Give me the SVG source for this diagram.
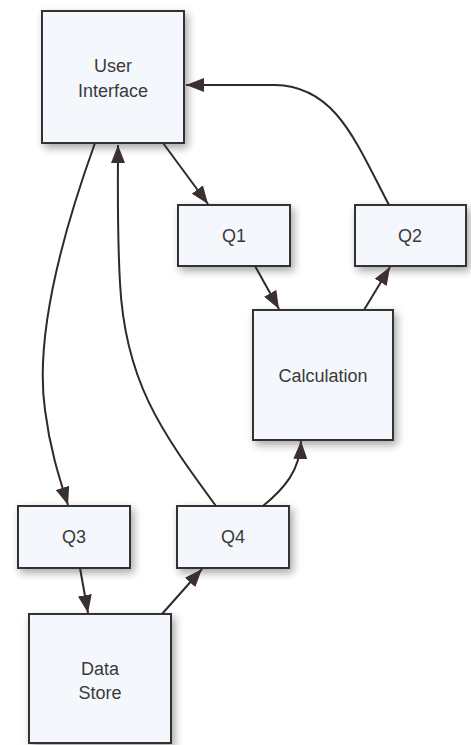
<svg xmlns="http://www.w3.org/2000/svg" width="471" height="745" viewBox="0 0 471 745">
<style>
.box{fill:#f4f8fc;stroke:#333;stroke-width:2;filter:url(#sh)}
.lbl{font-family:"Liberation Sans",Arial,sans-serif;font-size:18px;fill:#3a3a3a;text-anchor:middle}
.edge{fill:none;stroke:#2f2a2a;stroke-width:2;marker-end:url(#ah)}
</style>
<defs>
<filter id="sh" x="-20%" y="-20%" width="140%" height="140%">
<feDropShadow dx="3" dy="4" stdDeviation="4" flood-color="#000" flood-opacity="0.35"/>
</filter>
<marker id="ah" viewBox="0 0 18 14" refX="18" refY="7" markerWidth="18" markerHeight="14" markerUnits="userSpaceOnUse" orient="auto">
<path d="M0,0 L18,7 L0,14 z" fill="#3a3030"/>
</marker>
</defs>
<rect width="471" height="745" fill="#fff"/>
<g id="ui"><rect class="box" x="42" y="11" width="142" height="132"/><text class="lbl" x="113" y="72">User</text><text class="lbl" x="113" y="97">Interface</text></g>
<g id="q1"><rect class="box" x="178" y="205" width="112" height="61"/><text class="lbl" x="234" y="242">Q1</text></g>
<g id="q2"><rect class="box" x="355" y="205" width="111" height="61"/><text class="lbl" x="410" y="242">Q2</text></g>
<g id="calc"><rect class="box" x="253" y="310" width="140" height="130"/><text class="lbl" x="323" y="382">Calculation</text></g>
<g id="q3"><rect class="box" x="18" y="506" width="112" height="62"/><text class="lbl" x="74" y="543">Q3</text></g>
<g id="q4"><rect class="box" x="177" y="506" width="112" height="62"/><text class="lbl" x="233" y="543">Q4</text></g>
<g id="ds"><rect class="box" x="29" y="614" width="142" height="129"/><text class="lbl" x="100" y="675">Data</text><text class="lbl" x="100" y="699">Store</text></g>
<g id="connectors">
<path class="edge" d="M163,143 L208,204"/>
<path class="edge" d="M255,266 L279,309"/>
<path class="edge" d="M364,310 L390,267"/>
<path class="edge" d="M389,205 C355,140 335,86 275,85 L186,85"/>
<path class="edge" d="M95,143 C60,240 35,340 45,410 C50,450 60,480 68,505"/>
<path class="edge" d="M216,506 C160,430 125,380 120,283 C117,230 118,180 118,145"/>
<path class="edge" d="M263,506 C285,488 300,470 301,441"/>
<path class="edge" d="M80,568 L88,613"/>
<path class="edge" d="M162,614 L202,569"/>
</g>
</svg>
